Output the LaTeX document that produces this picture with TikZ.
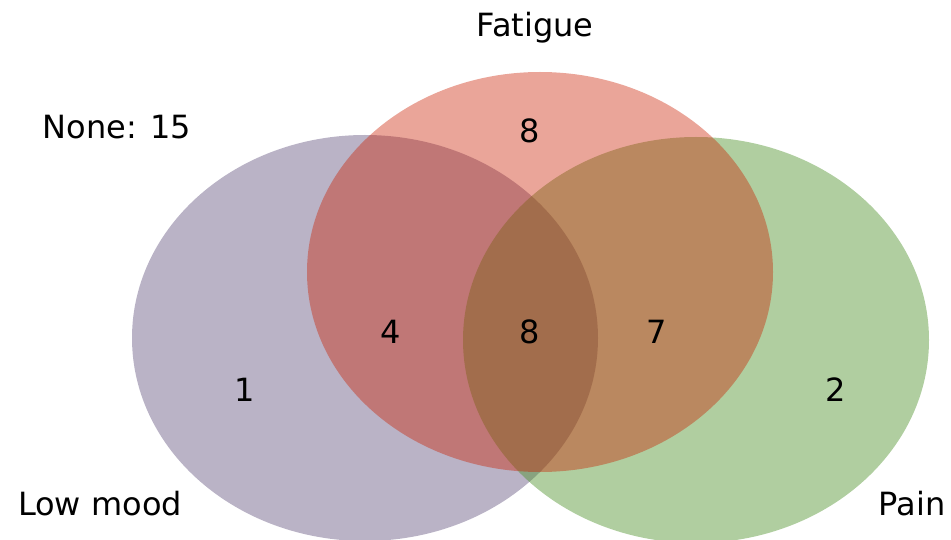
\documentclass[tikz,border=0pt]{standalone}
\usepackage{fontspec}
\setmainfont{DejaVu Sans}
\usepackage{tikz}
\usetikzlibrary{positioning}

\begin{document}
\begin{tikzpicture}[x=1pt,y=1pt,
		vtext/.style={font=\fontsize{32}{38}\selectfont, anchor=base, inner sep=0pt}]
			\definecolor{moodfill}{RGB}{186,179,198}
			\definecolor{fatfill}{RGB}{202,30,0}
			\definecolor{painfill}{RGB}{72,142,35}
			
			\useasboundingbox (0,0) rectangle (951,539);
			
			% ---------- the three sets ----------
			\fill[moodfill] (365,201) ellipse (233 and 203);
			\fill[painfill,fill opacity=0.43] (696,199) ellipse (233 and 203);
			\fill[fatfill,fill opacity=0.4] (540,267) ellipse (233 and 200);
			
			% ---------- set names ----------
			\node[vtext] (fatname) at (535,502) {Fatigue};
			\node[vtext] (nonename) at (117,400) {None: 15};
			\node[vtext] (moodname) at (100,24) {Low mood};
			\node[vtext] (painname) at (912,24) {Pain};
			
			% ---------- counts ----------
			\node[vtext] (fatonly) at (530,396) {8};
			\node[vtext] (moodfat) at (391,196) {4};
			\node[vtext] (allthree) at (530,196) {8};
			\node[vtext] (fatpain) at (657,196) {7};
			\node[vtext] (moodonly) at (245,138) {1};
			\node[vtext] (painonly) at (836,138) {2};
			
		\end{tikzpicture}
\end{document}
